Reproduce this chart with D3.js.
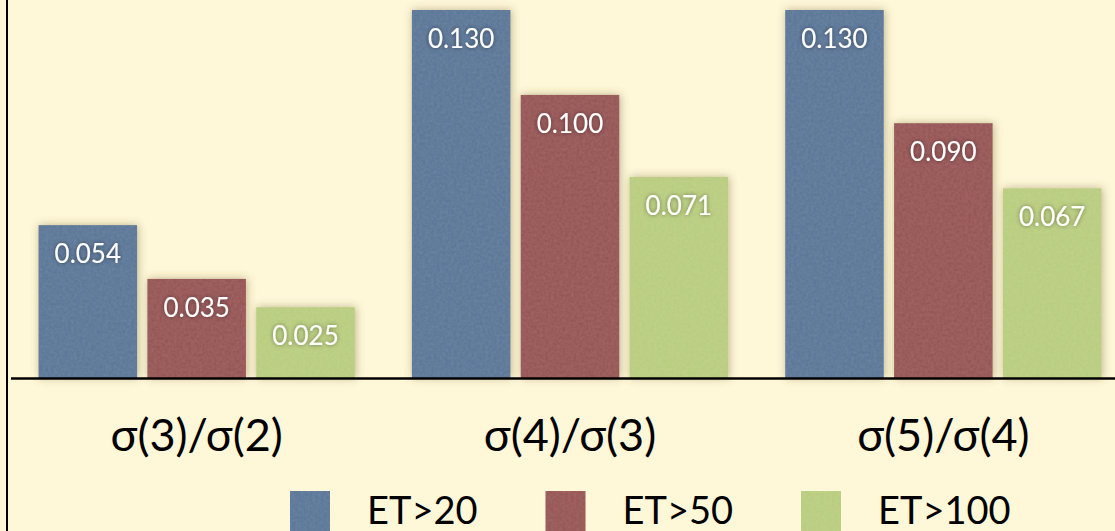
<!DOCTYPE html>
<html>
<head>
<meta charset="utf-8">
<script src="https://cdn.jsdelivr.net/npm/d3@7"></script>
<style>
  html, body { margin: 0; padding: 0; background: #fef7d8; }
  svg { display: block; }
</style>
</head>
<body>
<svg id="chart" width="1115" height="531"></svg>
<script>
// Ratio categories, jet-threshold series and values
const categories = ["σ(3)/σ(2)", "σ(4)/σ(3)", "σ(5)/σ(4)"];
const seriesNames = ["ET>20", "ET>50", "ET>100"];
const seriesColors = ["#5c7798", "#975756", "#b9cd7f"];
const et20 = [0.054, 0.130, 0.130];
const et50 = [0.035, 0.100, 0.090];
const et100 = [0.025, 0.071, 0.067];
const valueLabels = [["0.054", "0.130", "0.130"], ["0.035", "0.100", "0.090"], ["0.025", "0.071", "0.067"]];
const seriesValues = [et20, et50, et100];

const W = 1115, H = 531;
const svg = d3.select("#chart");
const font = "Lato, 'Open Sans', sans-serif";

const defs = svg.append("defs");

// soft halo shadow around each bar
const sh = defs.append("filter").attr("id", "barShadow")
  .attr("x", "-20%").attr("y", "-20%").attr("width", "140%").attr("height", "140%");
sh.append("feGaussianBlur").attr("in", "SourceAlpha").attr("stdDeviation", 4).attr("result", "b");
sh.append("feOffset").attr("in", "b").attr("dx", 1).attr("dy", 0).attr("result", "o");
sh.append("feFlood").attr("flood-color", "#6e5f2c").attr("flood-opacity", 0.45).attr("result", "c");
sh.append("feComposite").attr("in", "c").attr("in2", "o").attr("operator", "in").attr("result", "s");
const shm = sh.append("feMerge");
shm.append("feMergeNode").attr("in", "s");
shm.append("feMergeNode").attr("in", "SourceGraphic");

// paper-like grain over bar fills
const gr = defs.append("filter").attr("id", "grain")
  .attr("x", 0).attr("y", 0).attr("width", "100%").attr("height", "100%");
gr.append("feTurbulence").attr("type", "fractalNoise").attr("baseFrequency", 0.35)
  .attr("numOctaves", 3).attr("seed", 4).attr("result", "n");
gr.append("feColorMatrix").attr("in", "n").attr("type", "matrix")
  .attr("values", "0 0 0 0 1  0 0 0 0 1  0 0 0 0 1  0 0 0 -1.6 1.25").attr("result", "m");
gr.append("feComposite").attr("in", "m").attr("in2", "SourceAlpha").attr("operator", "in");

// shadow behind value labels
const ts = defs.append("filter").attr("id", "textShadow")
  .attr("x", "-20%").attr("y", "-40%").attr("width", "140%").attr("height", "180%");
ts.append("feGaussianBlur").attr("in", "SourceAlpha").attr("stdDeviation", 2).attr("result", "b");
ts.append("feFlood").attr("flood-color", "#000").attr("flood-opacity", 0.45).attr("result", "c");
ts.append("feComposite").attr("in", "c").attr("in2", "b").attr("operator", "in").attr("result", "s");
const tsm = ts.append("feMerge");
tsm.append("feMergeNode").attr("in", "s");
tsm.append("feMergeNode").attr("in", "SourceGraphic");

svg.append("rect").attr("width", W).attr("height", H).attr("fill", "#fef7d8");

// scales
const x0 = d3.scaleBand().domain(categories).range([10, 1130])
  .paddingInner(0.153).paddingOuter(0.0765);
const x1 = d3.scaleBand().domain(seriesNames).range([0, x0.bandwidth()])
  .paddingInner(0.095).paddingOuter(0);
const y = d3.scaleLinear().domain([0, 0.13]).range([378, 10]);

// bars
const rows = [];
seriesNames.forEach((s, si) => {
  categories.forEach((c, ci) => {
    rows.push({ s, si, c, ci, v: seriesValues[si][ci], label: valueLabels[si][ci] });
  });
});

const barG = svg.append("g");
const bars = barG.selectAll("g.bar").data(rows).join("g").attr("class", "bar");
bars.append("rect")
  .attr("x", d => x0(d.c) + x1(d.s))
  .attr("y", d => y(d.v))
  .attr("width", x1.bandwidth())
  .attr("height", d => y(0) - y(d.v))
  .attr("fill", d => seriesColors[d.si])
  .attr("filter", "url(#barShadow)");
bars.append("rect")
  .attr("x", d => x0(d.c) + x1(d.s))
  .attr("y", d => y(d.v))
  .attr("width", x1.bandwidth())
  .attr("height", d => y(0) - y(d.v))
  .attr("fill", "#fff")
  .attr("opacity", 0.08)
  .attr("filter", "url(#grain)");

// value labels
svg.append("g").selectAll("text").data(rows).join("text")
  .attr("x", d => x0(d.c) + x1(d.s) + x1.bandwidth() / 2)
  .attr("y", d => y(d.v) + 38)
  .attr("text-anchor", "middle")
  .attr("font-family", font)
  .attr("font-size", 26)
  .attr("fill", "#fff")
  .attr("filter", "url(#textShadow)")
  .text(d => d.label);

// baseline axis
const xAxis = d3.axisBottom(x0).tickSize(0).tickPadding(0).tickFormat("");
const axisG = svg.append("g").attr("transform", `translate(0,${y(0)})`).call(xAxis);
axisG.select(".domain").remove();
axisG.append("line").attr("x1", 11).attr("x2", W).attr("y1", 0.5).attr("y2", 0.5)
  .attr("stroke", "#000").attr("stroke-width", 2.5);

// category labels
svg.append("g").selectAll("text").data(categories).join("text")
  .attr("x", d => x0(d) + x0.bandwidth() / 2)
  .attr("y", 451)
  .attr("text-anchor", "middle")
  .attr("font-family", font)
  .attr("font-size", 45)
  .attr("fill", "#000")
  .text(d => d);

// left frame edge
svg.append("line").attr("x1", 7).attr("x2", 7).attr("y1", 0).attr("y2", H)
  .attr("stroke", "#000").attr("stroke-width", 2);

// legend
const legX = d3.scalePoint().domain(seriesNames).range([290, 801]);
const leg = svg.append("g").selectAll("g").data(seriesNames).join("g")
  .attr("transform", d => `translate(${legX(d)},491)`);
leg.append("rect").attr("width", 40).attr("height", 40)
  .attr("fill", (d, i) => seriesColors[i]);
leg.append("rect").attr("width", 40).attr("height", 40)
  .attr("fill", "#fff").attr("opacity", 0.08).attr("filter", "url(#grain)");
leg.append("text").attr("x", 77).attr("y", 33)
  .attr("font-family", font).attr("font-size", 38).attr("fill", "#000")
  .text(d => d);
</script>
</body>
</html>
